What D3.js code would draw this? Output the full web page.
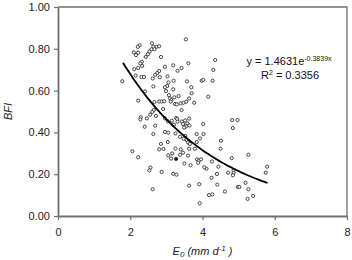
<!DOCTYPE html>
<html>
<head>
<meta charset="utf-8">
<script src="https://cdn.jsdelivr.net/npm/d3@7"></script>
<style>
  body { margin: 0; background: #fff; }
  svg text { font-family: "Liberation Sans", Arial, sans-serif; }
</style>
</head>
<body>
<div id="chart"></div>
<script>
// E0 (mm/d) and BFI
const e0Values = [
  2.60, 2.26, 2.21, 2.64, 2.73, 2.80, 2.59, 2.67, 2.53, 2.10, 2.16, 2.22, 2.43, 2.49, 2.85, 2.32,
  2.28, 2.33, 2.11, 2.22, 2.15, 2.31, 2.38, 2.62, 2.69, 2.75, 2.80, 2.82, 1.78, 2.64, 2.41, 2.22,
  2.67, 2.80, 2.87, 2.94, 2.65, 2.61, 2.55, 2.29, 2.28, 2.46, 2.71, 2.91, 2.40, 2.69,
  3.54, 4.35, 3.61, 3.19, 2.96, 3.42, 3.31, 4.30, 3.03, 3.98, 4.02, 4.28, 3.57, 3.20, 3.06, 3.02,
  2.96, 3.19, 3.69, 3.70, 2.99, 3.34, 3.07, 3.10, 3.14, 3.12, 3.22, 4.16, 3.63, 3.55, 3.47, 3.77,
  3.24, 3.29, 3.39, 3.42, 2.96, 3.27, 3.30, 3.63, 4.02,
  3.04, 3.15, 3.31, 3.43, 3.52, 3.58, 3.54, 3.46, 3.64, 3.49, 3.21, 2.64, 2.96, 3.05, 3.25, 3.38,
  3.48, 3.52, 3.56, 3.60, 3.65, 3.84, 4.03, 3.93, 3.84, 3.04, 2.85, 4.51, 2.80, 2.92, 3.25, 3.40,
  3.63, 3.79, 4.50, 2.06, 3.16, 3.05, 3.13, 3.38, 3.46, 3.60, 3.27, 2.22, 3.85, 3.90, 3.96, 3.88,
  3.50, 3.67, 4.11, 4.05, 4.26, 4.44, 2.56, 2.53, 2.87, 3.19, 3.28, 4.40, 4.25, 4.71, 3.91, 3.63,
  4.41, 2.62, 4.18, 4.27, 4.62, 3.92,
  4.82, 4.97, 4.84, 5.27, 4.81, 4.86, 4.86, 4.84, 5.79, 5.75, 5.19, 4.98, 5.02, 5.27, 5.40, 5.25
];
const bfiValues = [
  0.826, 0.817, 0.809, 0.810, 0.810, 0.812, 0.798, 0.798, 0.787, 0.783, 0.770, 0.781, 0.761, 0.774, 0.761, 0.738,
  0.730, 0.718, 0.702, 0.708, 0.672, 0.665, 0.665, 0.658, 0.676, 0.685, 0.694, 0.664, 0.645, 0.620, 0.596, 0.552,
  0.545, 0.548, 0.548, 0.549, 0.507, 0.498, 0.485, 0.472, 0.462, 0.467, 0.479, 0.512, 0.427, 0.432,
  0.845, 0.746, 0.731, 0.721, 0.714, 0.708, 0.695, 0.699, 0.668, 0.647, 0.651, 0.647, 0.644, 0.647, 0.639, 0.622,
  0.616, 0.606, 0.616, 0.587, 0.598, 0.574, 0.578, 0.563, 0.555, 0.547, 0.568, 0.571, 0.562, 0.547, 0.542, 0.542,
  0.536, 0.534, 0.539, 0.507, 0.467, 0.469, 0.464, 0.466, 0.440,
  0.453, 0.456, 0.451, 0.452, 0.457, 0.443, 0.428, 0.440, 0.433, 0.423, 0.437, 0.392, 0.402, 0.399, 0.395, 0.379,
  0.370, 0.383, 0.364, 0.352, 0.345, 0.392, 0.392, 0.371, 0.354, 0.354, 0.345, 0.360, 0.319, 0.321, 0.323, 0.319,
  0.322, 0.322, 0.322, 0.310, 0.299, 0.290, 0.275, 0.293, 0.303, 0.289, 0.273, 0.281, 0.271, 0.265, 0.271, 0.255,
  0.251, 0.243, 0.226, 0.233, 0.261, 0.236, 0.232, 0.218, 0.211, 0.202, 0.198, 0.201, 0.183, 0.207, 0.152, 0.145,
  0.150, 0.128, 0.100, 0.103, 0.117, 0.061,
  0.459, 0.459, 0.421, 0.293, 0.277, 0.218, 0.206, 0.195, 0.236, 0.207, 0.159, 0.139, 0.139, 0.128, 0.096, 0.082
];
const filledIndex = 129; // the one solid marker

const xTicks = [0, 2, 4, 6, 8];
const yTicks = [0, 0.2, 0.4, 0.6, 0.8, 1.0];

// fitted trend line shown on the chart
const fitA = 1.4631;
const fitB = -0.3839;
const fitR2 = 0.3356;
const fitRange = [1.8, 5.8];

const width = 352, height = 260;
const margin = {top: 7, right: 5, bottom: 44, left: 58};

const svg = d3.select("#chart").append("svg")
    .attr("width", width)
    .attr("height", height);

const x = d3.scaleLinear().domain([0, 8]).range([margin.left, width - margin.right]);
const y = d3.scaleLinear().domain([0, 1]).range([height - margin.bottom, margin.top]);

const axisColor = "#707070";

// frame: top and right edges
svg.append("path")
    .attr("d", `M${x(0)},${y(1)}H${x(8)}V${y(0)}`)
    .attr("fill", "none")
    .attr("stroke", axisColor)
    .attr("stroke-width", 1.3);

const yAxis = svg.append("g")
    .attr("transform", `translate(${x(0)},0)`)
    .call(d3.axisLeft(y).tickValues(yTicks).tickFormat(d3.format(".2f")).tickSize(4).tickSizeOuter(0));

const xAxis = svg.append("g")
    .attr("transform", `translate(0,${y(0)})`)
    .call(d3.axisBottom(x).tickValues(xTicks).tickFormat(d3.format("d")).tickSize(4).tickSizeOuter(0));

[xAxis, yAxis].forEach(g => {
  g.select(".domain").attr("stroke", axisColor).attr("stroke-width", 1.8);
  g.selectAll(".tick line").attr("stroke", axisColor).attr("stroke-width", 1.2);
  g.selectAll(".tick text")
    .attr("fill", "#222")
    .style("font-size", "11px")
    .style("font-family", '"Liberation Sans", Arial, sans-serif');
});
yAxis.selectAll(".tick text").attr("x", -8);
xAxis.selectAll(".tick text").attr("y", 12);

// scatter
svg.append("g")
  .selectAll("circle")
  .data(e0Values.map((v, i) => ({e0: v, bfi: bfiValues[i], i})))
  .join("circle")
    .attr("cx", d => x(d.e0))
    .attr("cy", d => y(d.bfi))
    .attr("r", 1.6)
    .attr("fill", d => d.i === filledIndex ? "#111" : "#fff")
    .attr("stroke", "#333")
    .attr("stroke-width", 0.9);

// trend line
const fitXs = d3.range(fitRange[0], fitRange[1] + 0.001, 0.05);
svg.append("path")
    .datum(fitXs)
    .attr("fill", "none")
    .attr("stroke", "#000")
    .attr("stroke-width", 1.8)
    .attr("d", d3.line().x(d => x(d)).y(d => y(fitA * Math.exp(fitB * d))));

// equation
const eq = svg.append("text")
    .attr("x", 289)
    .attr("y", 65)
    .attr("text-anchor", "middle")
    .attr("fill", "#111")
    .style("font-size", "11px");
eq.append("tspan").text(`y = ${fitA}e`);
eq.append("tspan").attr("dy", -4).style("font-size", "7px").text(`${fitB}x`);

const r2 = svg.append("text")
    .attr("x", 290)
    .attr("y", 79)
    .attr("text-anchor", "middle")
    .attr("fill", "#111")
    .style("font-size", "11px");
r2.append("tspan").text("R");
r2.append("tspan").attr("dy", -4).style("font-size", "7px").text("2");
r2.append("tspan").attr("dy", 4).text(` = ${fitR2}`);

// axis titles
svg.append("text")
    .attr("transform", `translate(12,${(y(0) + y(1)) / 2})rotate(-90)`)
    .attr("text-anchor", "middle")
    .attr("fill", "#222")
    .style("font-size", "11px")
    .style("font-style", "italic")
    .text("BFI");

const xt = svg.append("text")
    .attr("x", (x(0) + x(8)) / 2)
    .attr("y", 255)
    .attr("text-anchor", "middle")
    .attr("fill", "#222")
    .style("font-size", "11px")
    .style("font-style", "italic");
xt.append("tspan").text("E");
xt.append("tspan").attr("dy", 2).style("font-size", "8px").text("0");
xt.append("tspan").attr("dy", -2).text(" (mm d");
xt.append("tspan").attr("dy", -4).style("font-size", "8px").text("-1");
xt.append("tspan").attr("dy", 4).text(" )");
</script>
</body>
</html>
